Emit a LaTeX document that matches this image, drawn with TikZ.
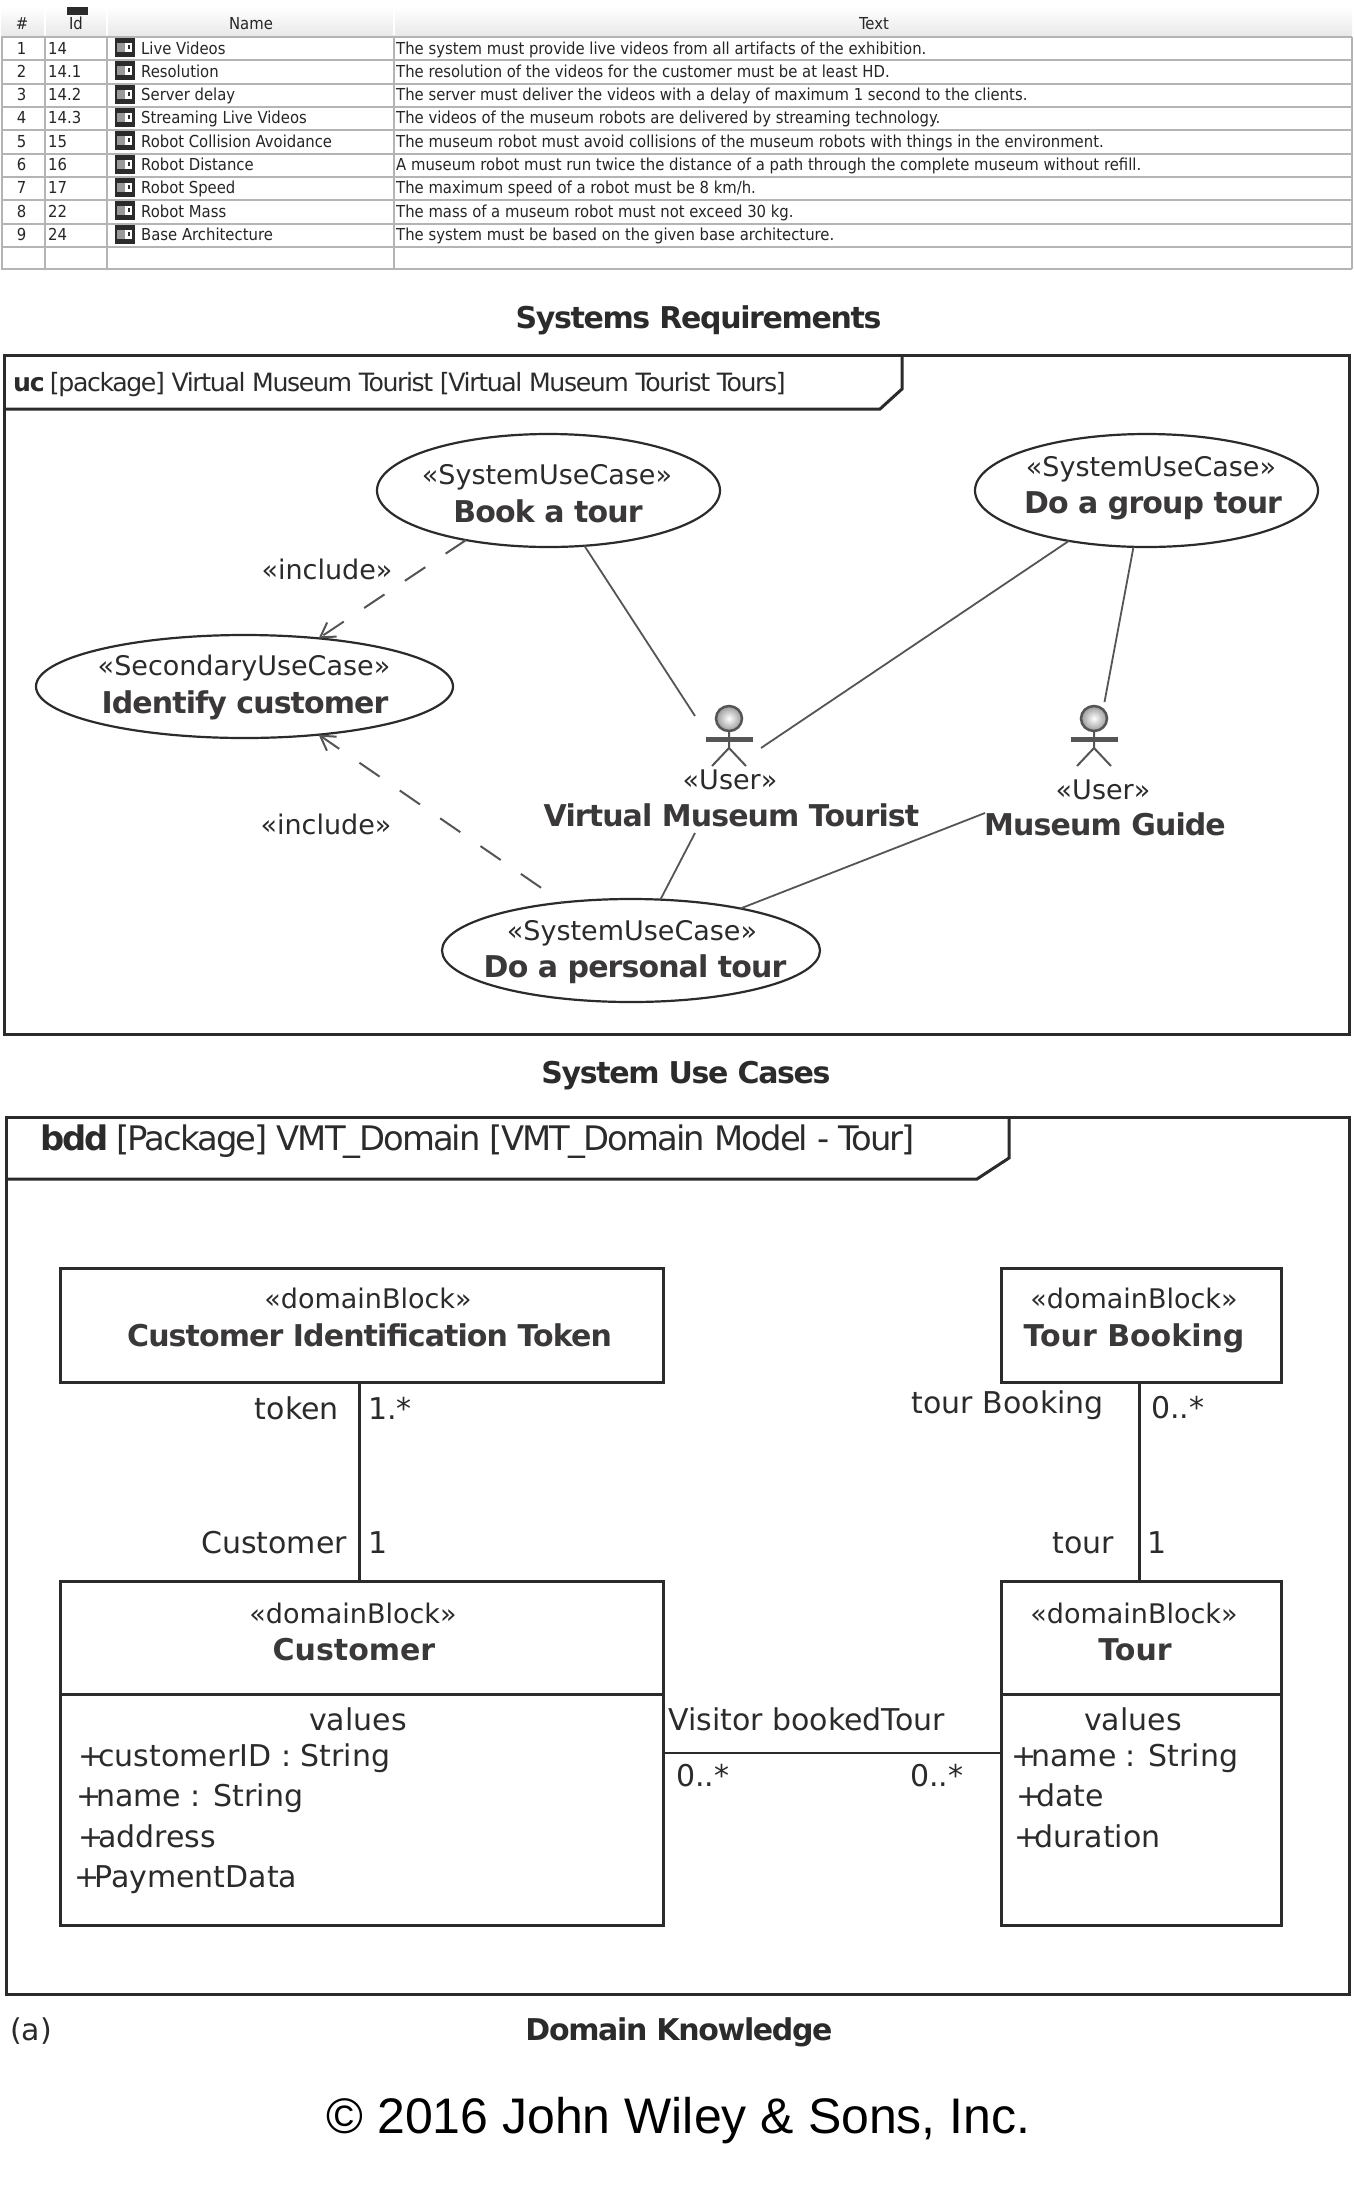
\documentclass[tikz,border=0pt]{standalone}
\usepackage{fontspec}
\usepackage{tikz}
\usetikzlibrary{arrows.meta,shapes.geometric}
\setmainfont{DejaVu Sans}
\newfontfamily\tablefont{DejaVu Sans Condensed}
\newfontfamily\wileyfont{Liberation Sans}
\newfontfamily\namefont[LetterSpace=-3]{DejaVu Sans}
\newfontfamily\captionfont[LetterSpace=-4.5]{DejaVu Sans}
\newfontfamily\titlefont[LetterSpace=-5.5]{DejaVu Sans}
\newcommand{\attrplus}{+\kern-5pt}
\definecolor{umlink}{HTML}{2B2B2B}
\definecolor{umlbold}{HTML}{3A3838}
\definecolor{umlline}{HTML}{555555}
\definecolor{gridgray}{HTML}{B4B4B4}
\definecolor{headgray}{HTML}{E9E9E9}
\tikzset{
    tabletext/.style={inner sep=0pt, text=black!85, text height=12pt, text depth=0pt, font=\tablefont\fontsize{16.5}{18}\selectfont},
    stereotext/.style={inner sep=0pt, text=umlink, text height=17pt, text depth=0pt, font=\fontsize{27}{30}\selectfont},
    nametext/.style={inner sep=0pt, text=umlbold, text height=21pt, text depth=0pt, font=\namefont\fontsize{30}{33}\selectfont\bfseries},
    widename/.style={nametext, font=\fontsize{30}{33}\selectfont\bfseries},
    valuetext/.style={inner sep=0pt, text=umlink, text height=20pt, text depth=0pt, font=\fontsize{30}{33}\selectfont},
    captiontext/.style={inner sep=0pt, text=umlink, text height=21pt, text depth=0pt, font=\captionfont\fontsize{30}{33}\selectfont\bfseries},
    usecase/.style={ellipse, draw=umlink, line width=2.2pt, inner sep=0pt, outer sep=0pt},
    blockbox/.style={rectangle, draw=umlink, line width=3pt, inner sep=0pt, outer sep=0pt},
    frameline/.style={draw=umlink, line width=3pt},
    assocline/.style={draw=umlline, line width=1.8pt},
    blockline/.style={draw=umlink, line width=2.4pt},
    includeline/.style={draw=umlline, line width=2pt, dash pattern=on 24.5pt off 24.5pt, -{Straight Barb[length=14pt,width=17pt]}},
    actorline/.style={draw=umlline, line width=2pt},
}
\begin{document}
\begin{tikzpicture}[x=1pt,y=-1pt]
    \useasboundingbox (0,0) rectangle (1354,2193);
    \fill[white] (0,0) rectangle (1354,2193);

    % Requirements table header
    \shade[top color=white, bottom color=headgray] (1,7) rectangle (1352,35);
    \draw[white, line width=1.5pt] (45,7) -- (45,35) (107,7) -- (107,35) (394,7) -- (394,35);
    \fill[umlink] (67,7) rectangle (88,15);
    \node[tabletext] (headnum) at (22,23) {\#};
    \node[tabletext] (headid) at (76,23) {Id};
    \node[tabletext] (headname) at (251,23) {Name};
    \node[tabletext] (headtext) at (874,23) {Text};

    % Requirements table rows
    \foreach \n/\rid/\rname/\rtext in {
        1/14/Live Videos/{The system must provide live videos from all artifacts of the exhibition.},
        2/14.1/Resolution/{The resolution of the videos for the customer must be at least HD.},
        3/14.2/Server delay/{The server must deliver the videos with a delay of maximum 1 second to the clients.},
        4/14.3/Streaming Live Videos/{The videos of the museum robots are delivered by streaming technology.},
        5/15/Robot Collision Avoidance/{The museum robot must avoid collisions of the museum robots with things in the environment.},
        6/16/Robot Distance/{A museum robot must run twice the distance of a path through the complete museum without refill.},
        7/17/Robot Speed/{The maximum speed of a robot must be 8 km/h.},
        8/22/Robot Mass/{The mass of a museum robot must not exceed 30 kg.},
        9/24/Base Architecture/{The system must be based on the given base architecture.}} {
        \pgfmathsetmacro{\rowtop}{37+(\n-1)*23.33}
        \fill[umlink] (115,\rowtop) rectangle (135,\rowtop+20);
        \fill[black!40] (117,\rowtop+6) rectangle (125,\rowtop+15);
        \fill[white] (125,\rowtop+6) rectangle (132,\rowtop+15);
        \fill[umlink] (128,\rowtop+8) rectangle (130,\rowtop+12);
        \node[tabletext] (num\n) at (21.5,\rowtop+11) {\n};
        \node[tabletext, anchor=west] (id\n) at (48,\rowtop+11) {\rid};
        \node[tabletext, anchor=west] (name\n) at (141,\rowtop+11) {\rname};
        \node[tabletext, anchor=west] (text\n) at (396,\rowtop+11) {\rtext};
    }
    % Grid of the table
    \foreach \n in {0,...,9} {
        \draw[gridgray, line width=1.8pt] (1,37+\n*23.33) -- (1352,37+\n*23.33);
    }
    \draw[gridgray, line width=2pt] (1,269) -- (1352,269);
    \foreach \colx in {2,45,107,394,1352} {
        \draw[gridgray, line width=1.8pt] (\colx,37) -- (\colx,269);
    }
    \node[captiontext] (reqcaption) at (698.5,318) {Systems Requirements};

    % Use case frame
    \draw[frameline] (4,355) rectangle (1349,1034);
    \draw[frameline] (4,409) -- (880,409) -- (902,389) -- (902,355);
    \node[inner sep=0pt, anchor=west, text=umlink, text height=20pt, text depth=0pt, font=\titlefont\fontsize{25.2}{28}\selectfont] (uctitle) at (13,381) {\textbf{uc} [package] Virtual Museum Tourist [Virtual Museum Tourist Tours]};

    % Use cases
    \node[usecase, minimum width=343pt, minimum height=113pt] (book) at (548.5,490.5) {};
    \node[usecase, minimum width=343pt, minimum height=113pt] (group) at (1146.5,490.5) {};
    \node[usecase, minimum width=417pt, minimum height=103pt] (identify) at (244.5,686.5) {};
    \node[usecase, minimum width=378pt, minimum height=103pt] (personal) at (631,950.5) {};
    \node[stereotext] (bookst) at (547,476) {«SystemUseCase»};
    \node[nametext] (bookname) at (548,512) {Book a tour};
    \node[stereotext] (groupst) at (1151,467.5) {«SystemUseCase»};
    \node[nametext] (groupname) at (1153,503) {Do a group tour};
    \node[stereotext] (identifyst) at (244,667) {«SecondaryUseCase»};
    \node[nametext] (identifyname) at (245,703) {Identify customer};
    \node[stereotext] (personalst) at (632,931.5) {«SystemUseCase»};
    \node[nametext] (personalname) at (635,967) {Do a personal tour};

    % Actors
    \foreach \cx/\actor in {729/tourist,1094/guide} {
        \draw[actorline] (\cx,732) -- (\cx,748) -- (\cx-17,766) (\cx,748) -- (\cx+17,766);
        \fill[umlline] (\cx-23.5,737) rectangle (\cx+23.5,741.5);
        \shade[draw=umlline, line width=2.5pt, inner color=white, outer color=black!40] (\cx,718.5) ellipse [x radius=13, y radius=12.5];
    }
    \coordinate (touristtop) at (695,716);
    \coordinate (touristright) at (761,748);
    \coordinate (touristbottom) at (695,833);
    \coordinate (guidetop) at (1104.5,702);
    \coordinate (guideleft) at (985,813);
    \node[stereotext] (touristst) at (730,780.5) {«User»};
    \node[nametext] (touristname) at (731.5,816) {Virtual Museum Tourist};
    \node[stereotext] (guidest) at (1103,790.5) {«User»};
    \node[nametext] (guidename) at (1105,825) {Museum Guide};

    % Associations
    \draw[assocline] (book.-57) -- (touristtop);
    \draw[assocline] (group.213.4) -- (touristright);
    \draw[assocline] (group.257.5) -- (guidetop);
    \draw[assocline] (touristbottom) -- (personal.60);
    \draw[assocline] (personal.21.4) -- (guideleft);

    % Include dependencies
    \draw[includeline] (book.211.7) -- (identify.33.6);
    \draw[includeline, dash phase=23pt] (personal.145.7) -- (identify.-33.5);
    \node[stereotext] (includea) at (327,570.5) {«include»};
    \node[stereotext] (includeb) at (326,825.5) {«include»};
    \node[captiontext] (uccaption) at (686,1073) {System Use Cases};

    % Domain frame
    \draw[frameline] (6,1117) rectangle (1349,1994);
    \draw[frameline] (6,1179) -- (977,1179) -- (1009,1158) -- (1009,1117);
    \node[inner sep=0pt, anchor=west, text=umlink, text height=22pt, text depth=0pt, font=\titlefont\fontsize{33.8}{36}\selectfont] (bddtitle) at (40,1139) {\textbf{bdd} [Package] VMT\_Domain [VMT\_Domain Model - Tour]};

    % Blocks
    \node[blockbox, minimum width=603pt, minimum height=114pt] (token) at (361.5,1325) {};
    \node[blockbox, minimum width=280pt, minimum height=114pt] (booking) at (1141,1325) {};
    \node[blockbox, minimum width=603pt, minimum height=344pt] (customer) at (361.5,1753) {};
    \node[blockbox, minimum width=280pt, minimum height=344pt] (tour) at (1141,1753) {};
    \draw[blockbox] (customer.west |- 0,1694) -- (customer.east |- 0,1694);
    \draw[blockbox] (tour.west |- 0,1694) -- (tour.east |- 0,1694);

    \node[stereotext] (tokenst) at (368,1300) {«domainBlock»};
    \node[nametext] (tokenname) at (369.5,1336) {Customer Identification Token};
    \node[stereotext] (bookingst) at (1134,1300) {«domainBlock»};
    \node[widename] (bookingname) at (1134,1336) {Tour Booking};
    \node[stereotext] (customerst) at (353,1614.5) {«domainBlock»};
    \node[widename] (customername) at (354,1649.5) {Customer};
    \node[stereotext] (tourst) at (1134,1614.5) {«domainBlock»};
    \node[widename] (tourname) at (1135,1649.5) {Tour};

    % Block values
    \node[valuetext] (custvalues) at (358,1720) {values};
    \node[valuetext, anchor=west] (custid) at (78,1756) {\attrplus customerID : String};
    \node[valuetext, anchor=west] (custname) at (76,1796) {\attrplus name : String};
    \node[valuetext, anchor=west] (custaddress) at (78,1837) {\attrplus address};
    \node[valuetext, anchor=west] (custpayment) at (74,1877) {\attrplus PaymentData};
    \node[valuetext] (tourvalues) at (1133,1720) {values};
    \node[valuetext, anchor=west] (tourvname) at (1011,1756) {\attrplus name : String};
    \node[valuetext, anchor=west] (tourdate) at (1016,1796) {\attrplus date};
    \node[valuetext, anchor=west] (tourduration) at (1014,1837) {\attrplus duration};

    % Block associations
    \draw[blockline] (token.south -| 359.5,0) -- (customer.north -| 359.5,0);
    \draw[blockline] (booking.south -| 1139.5,0) -- (tour.north -| 1139.5,0);
    \draw[blockline] (customer.east |- 0,1753) -- (tour.west |- 0,1753);
    \node[valuetext, anchor=east] (tokenrole) at (339,1409) {token};
    \node[valuetext, anchor=west] (tokenmult) at (368,1409) {1.*};
    \node[valuetext, anchor=east] (customerrole) at (347,1543) {Customer};
    \node[valuetext, anchor=west] (customermult) at (368,1543) {1};
    \node[valuetext, anchor=east] (bookingrole) at (1104,1403) {tour Booking};
    \node[valuetext, anchor=west] (bookingmult) at (1151,1408) {0..*};
    \node[valuetext, anchor=east] (tourrole) at (1114,1543) {tour};
    \node[valuetext, anchor=west] (tourmult) at (1147.5,1543) {1};
    \node[valuetext, anchor=west] (visitorrole) at (668,1720) {Visitor bookedTour};
    \node[valuetext, anchor=west] (visitormulta) at (676,1776) {0..*};
    \node[valuetext, anchor=west] (visitormultb) at (910,1776) {0..*};

    % Bottom captions
    \node[valuetext, anchor=west] (alabel) at (10,2030) {(a)};
    \node[captiontext] (domcaption) at (679,2030) {Domain Knowledge};
    \node[inner sep=0pt, text=black, text height=35pt, text depth=0pt, font=\wileyfont\fontsize{50}{52}\selectfont] (wiley) at (678.5,2116) {© 2016 John Wiley \& Sons, Inc.};
\end{tikzpicture}
\end{document}
